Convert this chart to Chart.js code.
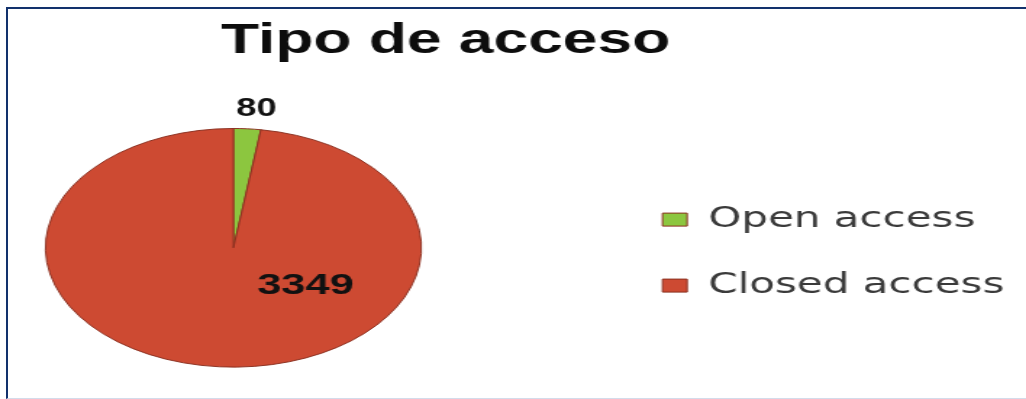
<html>

<head>
    <title>Tipo de acceso</title>
    <script src="https://cdn.jsdelivr.net/npm/chart.js"></script>
    <style>
        body {
            margin: 0;
            background: #fff;
            overflow: hidden;
        }

        .wrap {
            position: absolute;
            left: 0;
            top: 0;
            width: 708px;
            height: 399px;
            transform-origin: 0 0;
            transform: scaleX(1.4492);
        }

        .frame {
            position: absolute;
            left: 6px;
            top: 7px;
            width: 1040px;
            height: 389px;
            border-top: 2px solid #12316c;
            border-left: 2px solid #12316c;
            border-bottom: 1px solid #d3dbea;
            pointer-events: none;
        }
    </style>
</head>

<body>
    <div class="wrap"><canvas id="myChart" width="708" height="399"></canvas></div>
    <div class="frame"></div>

    <script>
        const titleText = 'Tipo de acceso'
        const categories = ['Open access', 'Closed access']
        const values = [80, 3349]
        const colors = ['#8cc63f', '#cd4a32']

        // the picture is a tilted pie, so squash it vertically
        const tilt = 0.92

        const ellipsePie = {
            id: 'ellipsePie',
            beforeDatasetsDraw(chart) {
                const arc = chart.getDatasetMeta(0).data[0]
                const ctx = chart.ctx
                ctx.save()
                ctx.translate(0, arc.y)
                ctx.scale(1, tilt)
                ctx.translate(0, -arc.y)
            },
            afterDatasetsDraw(chart, args, opts) {
                const ctx = chart.ctx
                ctx.restore()
                // value labels
                ctx.save()
                ctx.fillStyle = '#111'
                ctx.textAlign = 'center'
                ctx.textBaseline = 'middle'
                chart.getDatasetMeta(0).data.forEach((arc, i) => {
                    const place = opts.places[i]
                    const ang = place.angle !== undefined ? place.angle * Math.PI / 180 : (arc.startAngle + arc.endAngle) / 2
                    const r = arc.outerRadius * place.r
                    ctx.font = 'bold ' + place.size + 'px "Liberation Sans", Arial, sans-serif'
                    ctx.fillText(String(values[i]), arc.x + Math.cos(ang) * r, arc.y + Math.sin(ang) * r * tilt)
                })
                ctx.restore()
            }
        }

        // empty layout box between the pie and the legend
        const gapBox = {
            id: 'gapBox',
            start(chart, args, opts) {
                Chart.layouts.addBox(chart, {
                    position: 'right',
                    weight: 500,
                    fullSize: false,
                    options: { display: false }, // not counted when layout splits widths
                    update(maxWidth, maxHeight) {
                        this.width = opts.width
                        this.height = maxHeight
                    },
                    draw() { },
                    isHorizontal() { return false }
                })
            }
        }

        new Chart(document.getElementById('myChart'), {
            type: 'pie',
            data: {
                labels: categories,
                datasets: [{
                    data: values,
                    backgroundColor: colors,
                    borderColor: '#8a2f1f',
                    borderWidth: 1
                }]
            },
            plugins: [ellipsePie, gapBox],
            options: {
                responsive: false,
                devicePixelRatio: 1,
                animation: false,
                layout: {
                    padding: { left: -88, right: 5, top: 0, bottom: 21 }
                },
                plugins: {
                    tooltip: { enabled: false },
                    title: {
                        display: true,
                        text: titleText,
                        color: '#0d0d0d',
                        font: { family: '"Liberation Sans", Arial, sans-serif', size: 43, weight: 'bold' },
                        padding: { top: 15, bottom: 51 }
                    },
                    gapBox: { width: 98 },
                    legend: {
                        position: 'right',
                        fullSize: false,
                        title: { display: true, text: '', padding: 0, font: { size: 8 } },
                        labels: {
                            boxWidth: 17,
                            boxHeight: 13,
                            padding: 37,
                            color: '#3a3a3a',
                            font: { family: '"DejaVu Sans", sans-serif', size: 29 }
                        }
                    },
                    ellipsePie: {
                        places: [{ r: 1.17, angle: -84, size: 25 }, { r: 0.5, angle: 40, size: 30 }]
                    }
                }
            }
        })
    </script>
</body>

</html>
